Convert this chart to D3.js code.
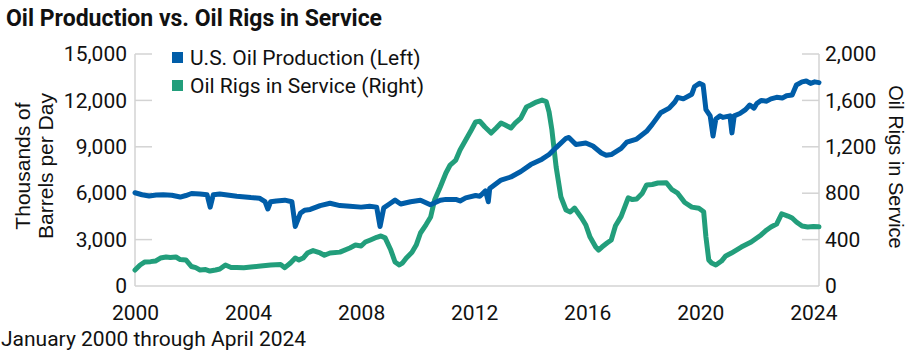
<!DOCTYPE html>
<html>
<head>
<meta charset="utf-8">
<script src="https://cdn.jsdelivr.net/npm/d3@7"></script>
<style>
  body { margin: 0; background: #fff; }
  svg { display: block; font-family: Roboto, "Noto Sans", sans-serif; }
</style>
</head>
<body>
<svg id="chart" width="912" height="359"></svg>
<script>
const titleText = "Oil Production vs. Oil Rigs in Service";
const footnoteText = "January 2000 through April 2024";
const seriesNames = ["U.S. Oil Production (Left)", "Oil Rigs in Service (Right)"];
const leftAxisTitle = ["Thousands of", "Barrels per Day"];
const rightAxisTitle = "Oil Rigs in Service";
const xTicks = [2000, 2004, 2008, 2012, 2016, 2020, 2024];
const leftTicks = [0, 3000, 6000, 9000, 12000, 15000];
const rightTicks = [0, 400, 800, 1200, 1600, 2000];

// U.S. oil production, thousands of barrels per day (decimal year, value)
const prodYears = [2000.00,2000.25,2000.50,2000.75,2001.00,2001.30,2001.60,2001.80,2002.00,2002.30,2002.55,2002.66,2002.77,2003.00,2003.20,2003.60,2003.90,2004.10,2004.40,2004.60,2004.70,2004.80,2005.00,2005.30,2005.55,2005.67,2005.85,2006.00,2006.20,2006.55,2006.90,2007.25,2007.60,2008.00,2008.30,2008.55,2008.67,2008.80,2009.00,2009.20,2009.40,2009.75,2010.10,2010.45,2010.80,2011.00,2011.35,2011.50,2011.70,2012.05,2012.20,2012.40,2012.50,2012.55,2012.95,2013.30,2013.65,2014.00,2014.40,2014.65,2014.90,2015.25,2015.35,2015.60,2015.95,2016.20,2016.50,2016.67,2016.85,2017.20,2017.40,2017.75,2018.10,2018.30,2018.60,2018.90,2019.10,2019.20,2019.40,2019.70,2019.80,2019.97,2020.10,2020.20,2020.35,2020.45,2020.55,2020.70,2020.80,2021.05,2021.12,2021.20,2021.40,2021.60,2021.75,2021.90,2022.00,2022.15,2022.35,2022.50,2022.70,2022.90,2023.05,2023.25,2023.40,2023.60,2023.75,2023.90,2024.05,2024.20];
const prodValues = [6030,5900,5820,5880,5900,5870,5750,5850,5980,5950,5900,5100,5900,5950,5900,5800,5760,5720,5680,5450,4980,5450,5500,5550,5450,3850,4700,4900,4950,5200,5350,5200,5150,5100,5150,5100,3850,5050,5300,5550,5300,5450,5550,5250,5550,5600,5600,5500,5700,5850,5800,6150,5450,6300,6850,7050,7400,7850,8200,8500,8950,9550,9600,9150,9250,9050,8600,8450,8500,8900,9300,9500,10000,10450,11200,11500,11900,12200,12100,12400,12900,13100,13000,11400,11000,9700,10800,11000,10900,11000,9900,11000,11150,11400,11700,11500,11800,12000,11950,12100,12200,12150,12300,12350,13000,13200,13250,13100,13200,13150];

// Oil rigs in service (decimal year, count)
const rigYears = [2000.00,2000.18,2000.35,2000.55,2000.72,2000.90,2001.10,2001.25,2001.45,2001.60,2001.80,2002.00,2002.15,2002.30,2002.50,2002.65,2002.85,2003.00,2003.20,2003.40,2003.60,2003.85,2004.10,2004.45,2004.80,2005.15,2005.30,2005.50,2005.67,2005.80,2005.95,2006.10,2006.30,2006.55,2006.70,2006.90,2007.25,2007.60,2007.80,2008.00,2008.15,2008.33,2008.55,2008.70,2008.85,2009.05,2009.20,2009.35,2009.47,2009.60,2009.80,2009.95,2010.10,2010.30,2010.46,2010.60,2010.80,2011.00,2011.15,2011.35,2011.50,2011.70,2011.90,2012.05,2012.20,2012.38,2012.60,2012.78,2012.95,2013.10,2013.30,2013.45,2013.65,2013.85,2014.00,2014.20,2014.40,2014.55,2014.65,2014.75,2014.90,2015.07,2015.25,2015.40,2015.55,2015.80,2015.95,2016.10,2016.30,2016.40,2016.52,2016.70,2016.85,2017.00,2017.20,2017.45,2017.60,2017.75,2017.95,2018.10,2018.30,2018.50,2018.80,2019.00,2019.20,2019.45,2019.70,2019.95,2020.12,2020.20,2020.30,2020.40,2020.55,2020.75,2020.90,2021.10,2021.45,2021.80,2022.15,2022.35,2022.50,2022.70,2022.88,2023.10,2023.25,2023.40,2023.60,2023.80,2024.00,2024.20];
const rigValues = [138,181,207,210,215,241,250,245,250,228,225,168,158,138,142,129,138,147,181,160,160,158,164,172,181,185,158,198,241,225,241,284,305,285,265,285,292,328,353,345,379,397,420,431,415,310,207,181,200,241,290,353,457,530,595,741,853,974,1043,1086,1172,1258,1345,1414,1420,1371,1319,1362,1405,1388,1362,1405,1448,1543,1560,1586,1603,1590,1500,1345,1026,767,655,638,672,586,526,422,336,310,336,371,397,520,600,760,745,750,800,871,875,888,890,830,800,720,680,670,640,422,224,198,181,215,259,284,336,379,440,483,509,534,623,603,586,552,517,509,512,510];

const prodColor = "#005DA8";
const rigColor = "#229E7B";

const svg = d3.select("#chart");
const W = 912, H = 359;
const m = { top: 54, right: 93, bottom: 73, left: 135 };
const iw = W - m.left - m.right, ih = H - m.top - m.bottom;

const x = d3.scaleLinear().domain([2000, 2024.2]).range([m.left, m.left + iw]);
const yL = d3.scaleLinear().domain([0, 15000]).range([m.top + ih, m.top]);
const yR = d3.scaleLinear().domain([0, 2000]).range([m.top + ih, m.top]);

const axisColor = "#d3d3d3";
const tickFont = 21;

// Left axis
const gL = svg.append("g").attr("transform", `translate(${m.left},0)`)
  .call(d3.axisLeft(yL).tickValues(leftTicks).tickFormat(d3.format(",")).tickSize(0).tickPadding(8));
gL.select(".domain").remove();
gL.selectAll("text").attr("font-size", tickFont).attr("fill", "#111").attr("font-family", "Roboto");

// Right axis
const gR = svg.append("g").attr("transform", `translate(${m.left + iw},0)`)
  .call(d3.axisRight(yR).tickValues(rightTicks).tickFormat(d3.format(",")).tickSize(0).tickPadding(6));
gR.select(".domain").remove();
gR.selectAll("text").attr("font-size", tickFont).attr("fill", "#111").attr("font-family", "Roboto");

// Bottom axis
const gB = svg.append("g").attr("transform", `translate(0,${m.top + ih})`)
  .call(d3.axisBottom(x).tickValues(xTicks).tickFormat(d3.format("d")).tickSize(0).tickPadding(19));
gB.select(".domain").remove();
gB.selectAll("text").attr("font-size", tickFont).attr("fill", "#111").attr("font-family", "Roboto");

// Frame lines and inward ticks
const frame = svg.append("g").attr("stroke", axisColor).attr("stroke-width", 1.5).attr("fill", "none");
frame.append("line").attr("x1", m.left).attr("x2", m.left).attr("y1", m.top).attr("y2", m.top + ih);
frame.append("line").attr("x1", m.left + iw).attr("x2", m.left + iw).attr("y1", m.top).attr("y2", m.top + ih);
frame.append("line").attr("x1", m.left).attr("x2", m.left + iw).attr("y1", m.top + ih).attr("y2", m.top + ih);
frame.selectAll(".lt").data(leftTicks.filter(d => d > 0)).join("line")
  .attr("x1", m.left).attr("x2", m.left + 17).attr("y1", d => yL(d)).attr("y2", d => yL(d));
frame.selectAll(".rt").data(rightTicks.filter(d => d > 0)).join("line")
  .attr("x1", m.left + iw - 17).attr("x2", m.left + iw).attr("y1", d => yR(d)).attr("y2", d => yR(d));

// Lines
const prodData = prodYears.map((t, i) => ({ t, v: prodValues[i] }));
const rigData = rigYears.map((t, i) => ({ t, v: rigValues[i] }));

svg.append("path").datum(rigData)
  .attr("fill", "none").attr("stroke", rigColor).attr("stroke-width", 5)
  .attr("stroke-linejoin", "round").attr("stroke-linecap", "round")
  .attr("d", d3.line().x(d => x(d.t)).y(d => yR(d.v)));

svg.append("path").datum(prodData)
  .attr("fill", "none").attr("stroke", prodColor).attr("stroke-width", 5)
  .attr("stroke-linejoin", "round").attr("stroke-linecap", "round")
  .attr("d", d3.line().x(d => x(d.t)).y(d => yL(d.v)));

// Title
svg.append("text").attr("x", 6).attr("y", 26).attr("font-size", 23).attr("font-weight", "bold")
  .attr("fill", "#111").text(titleText);

// Legend
const legColors = [prodColor, rigColor];
const leg = svg.append("g");
seriesNames.forEach((name, i) => {
  const yy = 52 + i * 28;
  leg.append("rect").attr("x", 172).attr("y", yy).attr("width", 11).attr("height", 11).attr("fill", legColors[i]);
  leg.append("text").attr("x", 190).attr("y", yy + 13).attr("font-size", 21).attr("fill", "#111").text(name);
});

// Left axis title
const lt = svg.append("text").attr("transform", "translate(0,166) rotate(-90)")
  .attr("text-anchor", "middle").attr("font-size", 21).attr("fill", "#111")
  .attr("font-family", "'Liberation Sans', Arial, sans-serif");
lt.append("tspan").attr("x", 0).attr("y", 30).text(leftAxisTitle[0]);
lt.append("tspan").attr("x", 0).attr("y", 53).text(leftAxisTitle[1]);

// Right axis title
svg.append("text").attr("transform", "translate(889,167) rotate(90)")
  .attr("text-anchor", "middle").attr("font-size", 20).attr("fill", "#111")
  .attr("font-family", "'Liberation Sans', Arial, sans-serif").text(rightAxisTitle);

// Footnote
svg.append("text").attr("x", 1).attr("y", 346).attr("font-size", 21).attr("fill", "#111").text(footnoteText);
</script>
</body>
</html>
